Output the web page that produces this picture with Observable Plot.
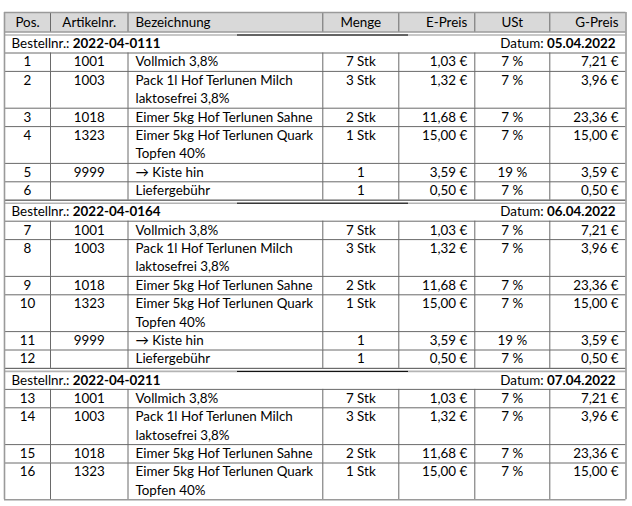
<!DOCTYPE html>
<html><head><meta charset="utf-8">
<script src="https://cdn.jsdelivr.net/npm/d3@7"></script>
<script src="https://cdn.jsdelivr.net/npm/@observablehq/plot@0.6"></script>
<style>html,body{margin:0;padding:0;background:#fff;} #chart{width:632px;height:506px;}</style>
</head><body><div id="chart"></div>
<script>
// ---------- data ----------
const headerLabels = ["Pos.", "Artikelnr.", "Bezeichnung", "Menge", "E-Preis", "USt", "G-Preis"];
const orderNumbers = ["2022-04-0111", "2022-04-0164", "2022-04-0211"];
const orderDates = ["05.04.2022", "06.04.2022", "07.04.2022"];
const itemOrder = [0,0,0,0,0,0, 1,1,1,1,1,1, 2,2,2,2];
const positions = ["1","2","3","4","5","6","7","8","9","10","11","12","13","14","15","16"];
const articleNumbers = ["1001","1003","1018","1323","9999","",
                        "1001","1003","1018","1323","9999","",
                        "1001","1003","1018","1323"];
const descriptions = [
  "Vollmich 3,8%", "Pack 1l Hof Terlunen Milch\nlaktosefrei 3,8%", "Eimer 5kg Hof Terlunen Sahne",
  "Eimer 5kg Hof Terlunen Quark\nTopfen 40%", "\u2192 Kiste hin", "Liefergebühr",
  "Vollmich 3,8%", "Pack 1l Hof Terlunen Milch\nlaktosefrei 3,8%", "Eimer 5kg Hof Terlunen Sahne",
  "Eimer 5kg Hof Terlunen Quark\nTopfen 40%", "\u2192 Kiste hin", "Liefergebühr",
  "Vollmich 3,8%", "Pack 1l Hof Terlunen Milch\nlaktosefrei 3,8%", "Eimer 5kg Hof Terlunen Sahne",
  "Eimer 5kg Hof Terlunen Quark\nTopfen 40%"];
const quantities = ["7 Stk","3 Stk","2 Stk","1 Stk","1","1",
                    "7 Stk","3 Stk","2 Stk","1 Stk","1","1",
                    "7 Stk","3 Stk","2 Stk","1 Stk"];
const unitPrices = ["1,03 €","1,32 €","11,68 €","15,00 €","3,59 €","0,50 €",
                    "1,03 €","1,32 €","11,68 €","15,00 €","3,59 €","0,50 €",
                    "1,03 €","1,32 €","11,68 €","15,00 €"];
const taxRates = ["7 %","7 %","7 %","7 %","19 %","7 %",
                  "7 %","7 %","7 %","7 %","19 %","7 %",
                  "7 %","7 %","7 %","7 %"];
const totalPrices = ["7,21 €","3,96 €","23,36 €","15,00 €","3,59 €","0,50 €",
                     "7,21 €","3,96 €","23,36 €","15,00 €","3,59 €","0,50 €",
                     "7,21 €","3,96 €","23,36 €","15,00 €"];
const orderLabel = "Bestellnr.:";
const dateLabel = "Datum:";

// ---------- layout ----------
const FONT = "Lato, 'Open Sans', sans-serif";
const FS = 13.4;
const colEdges = [0, 46, 123.5, 318.3, 394.3, 470.3, 545.3, 621.5];
const colAlign = ["middle","middle","start","middle","end","middle","end"];
const PAD = 7.5;
const HEAD_H = 19.5, SEP_H = 3, ORDER_H = 18, LINE_H = 18.4;
const W = colEdges[colEdges.length - 1];
const BLACK_SEG = [233, 404];
const GRID = "#6a6a6a", OUTER = "#9a9a9a", SEPLOW = "#b4b4b4";

const ctx = document.createElement("canvas").getContext("2d");
function textWidth(s, weight) { ctx.font = `${weight} ${FS}px Lato`; return ctx.measureText(s).width; }

function cellX(c) {
  const a = colAlign[c];
  return a === "middle" ? (colEdges[c] + colEdges[c+1]) / 2 : a === "start" ? colEdges[c] + PAD : colEdges[c+1] - PAD;
}

let y = 0;
const header = {y0: 0, y1: HEAD_H};
y = HEAD_H;
const seps = [], orderRows = [], itemRows = [];
orderNumbers.forEach((num, o) => {
  seps.push({y0: y, y1: y + SEP_H}); y += SEP_H;
  orderRows.push({num, date: orderDates[o], y0: y, y1: y + ORDER_H}); y += ORDER_H;
  positions.forEach((p, i) => {
    if (itemOrder[i] !== o) return;
    const lines = descriptions[i].split("\n");
    itemRows.push({i, lines, y0: y, y1: y + lines.length * LINE_H});
    y += lines.length * LINE_H;
  });
});
const H = y;

// text cells
const cells = [];
headerLabels.forEach((t, c) => cells.push({text: t, x: cellX(c), y: (header.y0 + header.y1) / 2, anchor: colAlign[c]}));
const columns = [positions, articleNumbers, null, quantities, unitPrices, taxRates, totalPrices];
itemRows.forEach(r => {
  columns.forEach((col, c) => {
    if (c === 2) {
      r.lines.forEach((l, k) => cells.push({text: l, x: cellX(c), y: r.y0 + (k + 0.5) * LINE_H, anchor: "start"}));
    } else {
      cells.push({text: col[r.i], x: cellX(c), y: r.y0 + LINE_H / 2, anchor: colAlign[c]});
    }
  });
});

// order header texts
const LEFT_X = 7, RIGHT_X = W - 10.5;
const orderTexts = [];
const orderLblW = textWidth(orderLabel + " ", "normal");
orderRows.forEach(r => {
  const cy = (r.y0 + r.y1) / 2;
  orderTexts.push({text: orderLabel, x: LEFT_X, y: cy, anchor: "start", bold: false});
  orderTexts.push({text: r.num, x: LEFT_X + orderLblW, y: cy, anchor: "start", bold: true});
  const dw = textWidth(r.date, "bold") + textWidth(" ", "normal");
  orderTexts.push({text: r.date, x: RIGHT_X, y: cy, anchor: "end", bold: true});
  orderTexts.push({text: dateLabel, x: RIGHT_X - dw, y: cy, anchor: "end", bold: false});
});

// lines
const hLines = [];
hLines.push({y: 0, x1: 0, x2: W, kind: "outer"});
seps.forEach(s => {
  hLines.push({y: s.y0, x1: 0, x2: W, kind: "grid"});
  hLines.push({y: s.y1, x1: 0, x2: W, kind: "seplow"});
  hLines.push({y: s.y1, x1: BLACK_SEG[0], x2: BLACK_SEG[1], kind: "black"});
});
orderRows.forEach(r => hLines.push({y: r.y1, x1: 0, x2: W, kind: "grid"}));
itemRows.forEach(r => hLines.push({y: r.y1, x1: 0, x2: W, kind: r.y1 >= H - 0.01 ? "outer" : "grid"}));

const vLines = [];
vLines.push({x: 0, y1: 0, y2: H, kind: "outer"});
vLines.push({x: W, y1: 0, y2: H, kind: "outer"});
[header, ...itemRows].forEach(r => {
  for (let c = 1; c < colEdges.length - 1; c++) vLines.push({x: colEdges[c], y1: r.y0, y2: r.y1, kind: "grid"});
});

const textOpts = {text: "text", x: "x", y: "y", fill: "#000", fontSize: FS, lineAnchor: "middle"};

const plot = Plot.plot({
  width: 632, height: 506,
  margin: 0,
  x: {domain: [0, W], range: [4, 625.5], axis: null},
  y: {domain: [0, H], range: [12, 12 + H], axis: null},
  style: {fontFamily: FONT, fontSize: FS + "px", background: "#fff", color: "#000"},
  marks: [
    Plot.rect([header], {x1: () => 0, x2: () => W, y1: "y0", y2: "y1", fill: "#d9d9d9"}),
    Plot.ruleX(vLines.filter(d => d.kind === "grid"), {x: "x", y1: "y1", y2: "y2", stroke: GRID, strokeWidth: 1}),
    Plot.ruleY(hLines.filter(d => d.kind === "grid"), {y: "y", x1: "x1", x2: "x2", stroke: GRID, strokeWidth: 1}),
    Plot.ruleY(hLines.filter(d => d.kind === "seplow"), {y: "y", x1: "x1", x2: "x2", stroke: SEPLOW, strokeWidth: 1.6}),
    Plot.ruleY(hLines.filter(d => d.kind === "black"), {y: "y", x1: "x1", x2: "x2", stroke: "#000", strokeWidth: 1}),
    Plot.ruleX(vLines.filter(d => d.kind === "outer"), {x: "x", y1: "y1", y2: "y2", stroke: OUTER, strokeWidth: 1.6}),
    Plot.ruleY(hLines.filter(d => d.kind === "outer"), {y: "y", x1: "x1", x2: "x2", stroke: OUTER, strokeWidth: 1.6}),
    Plot.text(cells.filter(d => d.anchor === "start"), {...textOpts, textAnchor: "start"}),
    Plot.text(cells.filter(d => d.anchor === "middle"), {...textOpts, textAnchor: "middle"}),
    Plot.text(cells.filter(d => d.anchor === "end"), {...textOpts, textAnchor: "end"}),
    Plot.text(orderTexts.filter(d => !d.bold && d.anchor === "start"), {...textOpts, textAnchor: "start"}),
    Plot.text(orderTexts.filter(d => !d.bold && d.anchor === "end"), {...textOpts, textAnchor: "end"}),
    Plot.text(orderTexts.filter(d => d.bold && d.anchor === "start"), {...textOpts, textAnchor: "start", fontWeight: "bold"}),
    Plot.text(orderTexts.filter(d => d.bold && d.anchor === "end"), {...textOpts, textAnchor: "end", fontWeight: "bold"})
  ]
});
document.getElementById("chart").append(plot);
</script>
</body></html>
